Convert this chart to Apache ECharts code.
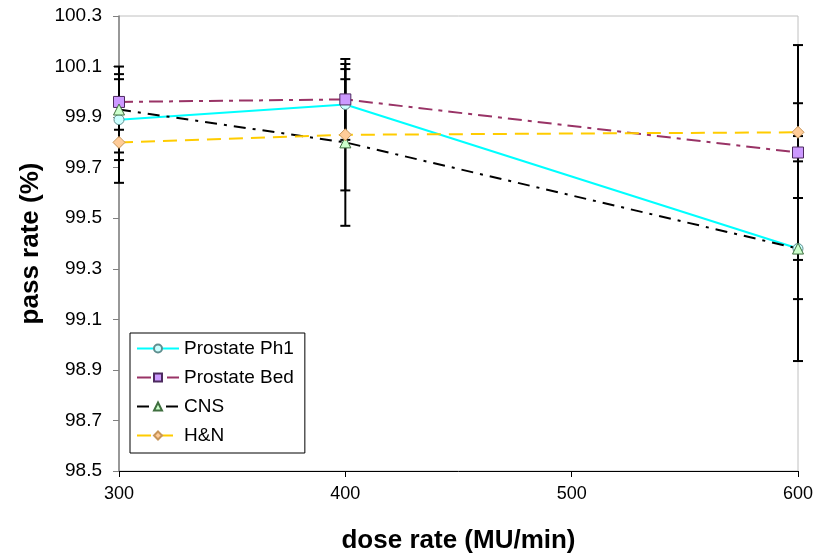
<!DOCTYPE html>
<html>
<head>
<meta charset="utf-8">
<script src="https://cdn.jsdelivr.net/npm/echarts@6/dist/echarts.min.js"></script>
<style>
  html, body { margin: 0; padding: 0; background: #fff; }
  #chart { width: 817px; height: 560px; }
</style>
</head>
<body>
<div id="chart"></div>
<script>
// dose rate (MU/min)
const doseRates = [300, 400, 600]
const yTicks = [98.5, 98.7, 98.9, 99.1, 99.3, 99.5, 99.7, 99.9, 100.1, 100.3]

// pass rate (%) and error bar half-widths
const prostatePh1 = [99.89, 99.95, 99.38]
const prostatePh1Err = [0.16, 0.14, 0.445]
const prostateBed = [99.96, 99.97, 99.76]
const prostateBedErr = [0.11, 0.14, 0.425]
const cns = [99.93, 99.80, 99.38]
const cnsErr = [0.17, 0.33, 0.20]
const hn = [99.80, 99.83, 99.84]
const hnErr = [0.16, 0.22, 0.115]

const font = 'Arial, "Liberation Sans", sans-serif'

function pairs(ys) {
  return doseRates.map((x, i) => [x, ys[i]])
}
function errData(ys, errs) {
  return doseRates.map((x, i) => [x, ys[i], errs[i]])
}

// vertical error bar with caps
function renderErr(params, api) {
  const x = api.value(0), y = api.value(1), e = api.value(2)
  const top = api.coord([x, y + e])
  const bot = api.coord([x, y - e])
  const cap = 5
  const st = { stroke: '#000', lineWidth: 2 }
  return {
    type: 'group',
    children: [
      { type: 'line', shape: { x1: top[0], y1: top[1], x2: bot[0], y2: bot[1] }, style: st },
      { type: 'line', shape: { x1: top[0] - cap, y1: top[1], x2: top[0] + cap, y2: top[1] }, style: st },
      { type: 'line', shape: { x1: bot[0] - cap, y1: bot[1], x2: bot[0] + cap, y2: bot[1] }, style: st }
    ]
  }
}

const lineDefs = [
  { name: 'Prostate Ph1', ys: prostatePh1, errs: prostatePh1Err, color: '#00ffff', dash: 'solid',
    symbol: 'circle', size: 10, fill: '#ccffff', edge: '#5f8f8f' },
  { name: 'Prostate Bed', ys: prostateBed, errs: prostateBedErr, color: '#993366', dash: [14, 6, 4, 6],
    symbol: 'rect', size: 11, fill: '#cc99ff', edge: '#4d2a5f' },
  { name: 'CNS', ys: cns, errs: cnsErr, color: '#000000', dash: [12, 7, 3, 7],
    symbol: 'triangle', size: 11, fill: '#ccffcc', edge: '#3f6f3f' },
  { name: 'H&N', ys: hn, errs: hnErr, color: '#ffcc00', dash: [14, 8],
    symbol: 'diamond', size: 12, fill: '#ffcc99', edge: '#c8965a' }
]

const series = []
lineDefs.forEach(d => {
  series.push({
    type: 'custom',
    name: d.name + ' err',
    renderItem: renderErr,
    data: errData(d.ys, d.errs),
    z: 1,
    silent: true
  })
})
lineDefs.forEach(d => {
  series.push({
    type: 'line',
    name: d.name,
    data: pairs(d.ys),
    z: 3,
    symbol: d.symbol,
    symbolSize: d.size,
    showAllSymbol: true,
    lineStyle: { color: d.color, width: 2, type: d.dash },
    itemStyle: { color: d.fill, borderColor: d.edge, borderWidth: 1 },
    emphasis: { disabled: true }
  })
})

const myChart = echarts.init(document.getElementById('chart'))
myChart.setOption({
  animation: false,
  backgroundColor: '#fff',
  grid: {
    left: 119, right: 19, top: 16, bottom: 89,
    show: true, borderColor: '#c0c0c0', borderWidth: 1
  },
  legend: {
    data: lineDefs.map(d => d.name),
    orient: 'vertical',
    left: 130, top: 333,
    padding: [6, 11, 8, 6],
    itemWidth: 42, itemHeight: 10, itemGap: 10,
    borderColor: '#000', borderWidth: 1, backgroundColor: '#fff',
    textStyle: { fontFamily: font, fontSize: 19, color: '#000', lineHeight: 18 }
  },
  xAxis: {
    type: 'value',
    min: 300, max: 600, interval: 100,
    name: 'dose rate (MU/min)',
    nameLocation: 'middle', nameGap: 57,
    nameTextStyle: { fontFamily: font, fontSize: 26, fontWeight: 'bold', color: '#000' },
    axisLine: { lineStyle: { color: '#000', width: 1 } },
    axisTick: { length: 6, lineStyle: { color: '#000' } },
    axisLabel: { fontFamily: font, fontSize: 18, color: '#000', margin: 14 },
    splitLine: { show: false }
  },
  yAxis: {
    type: 'value',
    min: 98.5, max: 100.3, interval: 0.2,
    name: 'pass rate (%)',
    nameLocation: 'middle', nameGap: 73,
    nameTextStyle: { fontFamily: font, fontSize: 26, fontWeight: 'bold', color: '#000' },
    axisLine: { show: true, lineStyle: { color: '#808080', width: 1.5 } },
    axisTick: { show: true, length: 6, lineStyle: { color: '#808080' } },
    axisLabel: {
      fontFamily: font, fontSize: 19, color: '#000', margin: 17,
      formatter: v => yTicks.find(t => Math.abs(t - v) < 1e-6) !== undefined ? v.toFixed(1) : ''
    },
    splitLine: { show: false }
  },
  series: series
})
window.onresize = function () {
  myChart.resize()
}
</script>
</body>
</html>
